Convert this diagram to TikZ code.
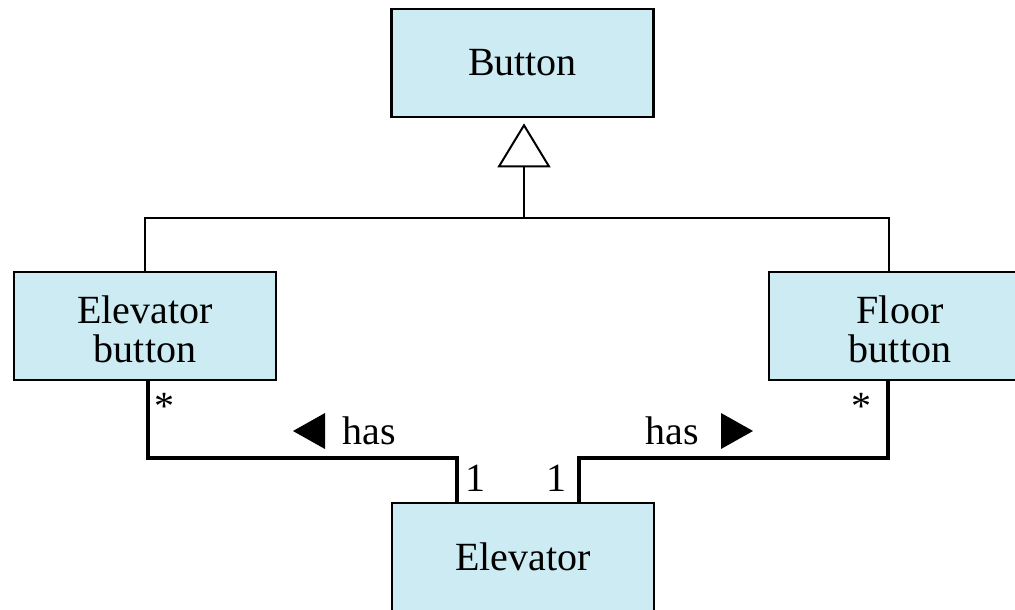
\documentclass[tikz,border=0pt]{standalone}
\usepackage{fontspec}
\setmainfont{Liberation Serif}
\usetikzlibrary{arrows.meta}
\definecolor{boxfill}{RGB}{204,235,242}
\begin{document}
\begin{tikzpicture}[x=1pt,y=-1pt,
  classbox/.style={draw=black, line width=2.7pt, fill=boxfill, minimum width=262pt, minimum height=108pt, align=center, inner sep=0pt, font=\fontsize{40}{39}\selectfont},
  twoline/.style={text height=72pt, text depth=0pt},
  genline/.style={draw=black, line width=2pt},
  assoc/.style={draw=black, line width=4.5pt},
  lbl/.style={font=\fontsize{40}{39}\selectfont, inner sep=0pt, anchor=base},
  dirtri/.style={fill=black}
]
\useasboundingbox (0,0) rectangle (1015,610);

\node[classbox] (button) at (522.5,63) {Button};
\node[classbox, twoline] (eb) at (145,326) {Elevator\\button};
\node[classbox, twoline] (fb) at (900,326) {Floor\\button};
\node[classbox] (el) at (523,557) {Elevator};

% generalization
\coordinate (j) at (524,218);
\coordinate (fbstem) at (889,218);
\draw[genline] (eb.north) |- (j) -- (fbstem) -- (fbstem |- fb.north);
\draw[genline, -{Triangle[open, length=44pt, width=53pt, line width=2pt]}, shorten >=5pt] (j) -- (j |- button.south);

% associations
\coordinate (l1) at (148,458);
\coordinate (l2) at (457,458);
\coordinate (r1) at (579,458);
\coordinate (r2) at (888,458);
\draw[assoc] (eb.south -| l1) -- (l1) -- (l2) -- (l2 |- el.north);
\draw[assoc] (el.north -| r1) -- (r1) -- (r2) -- (r2 |- fb.south);

% labels
\node[lbl] (s1) at (164,419) {*};
\node[lbl] (one1) at (475,491) {1};
\node[lbl] (one2) at (556,491) {1};
\node[lbl] (s2) at (861,419) {*};
\node[lbl] (has1) at (369,444) {has};
\node[lbl] (has2) at (672.5,444) {has};
\fill[dirtri] (293,431) -- (325,413) -- (325,449) -- cycle;
\fill[dirtri] (753,431) -- (721,413) -- (721,449) -- cycle;
\end{tikzpicture}
\end{document}
